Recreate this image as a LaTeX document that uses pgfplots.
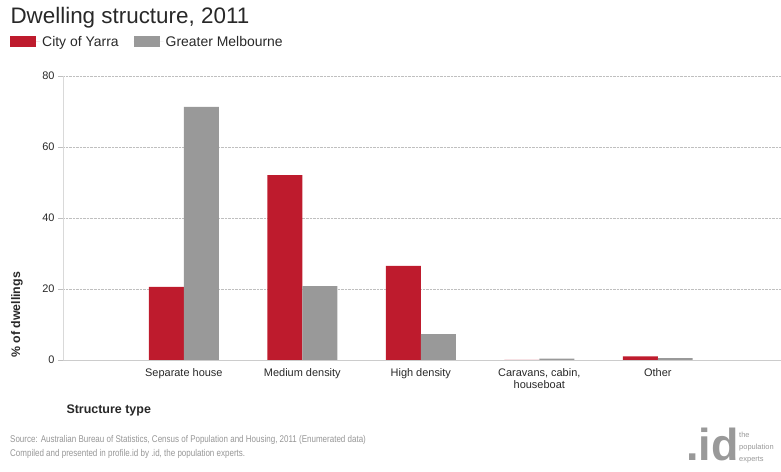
\documentclass[border=0pt]{standalone}
\usepackage{pgfplots}
\pgfplotsset{compat=1.18}
\usepackage{fontspec}
\setmainfont{Liberation Sans}
\definecolor{yarra}{RGB}{190,27,45}
\definecolor{melb}{RGB}{153,153,153}
\definecolor{txt}{RGB}{40,40,40}
\definecolor{src}{RGB}{150,150,150}
\begin{document}
\begin{tikzpicture}[x=1bp,y=1bp]
\useasboundingbox (0,0) rectangle (781,472);
\begin{axis}[
  at={(63bp,112bp)}, anchor=south west,
  scale only axis, width=718bp, height=284bp,
  ybar=0pt, bar width=0.295,
  xmin=-1.02, xmax=5.04, ymin=0, ymax=80,
  xtick={0,1,2,3,4},
  xticklabels={Separate house,Medium density,High density,{Caravans, cabin,\\houseboat},Other},
  xticklabel style={align=center, font=\fontsize{11}{12.5}\selectfont, text=txt},
  ytick={0,20,40,60,80},
  yticklabel style={font=\fontsize{11}{12}\selectfont, text=txt},
  /pgf/number format/assume math mode=true,
  ymajorgrids, grid style={densely dotted, color=black!25},
  axis x line*=bottom, axis y line*=left,
  axis line style={color=black!15},
  x axis line style={color=black!20},
  major tick length=5bp,
  xtick style={draw=none},
  ytick style={color=black!25},
  tick align=outside,
  legend columns=2,
  legend style={at={(-0.0738,1.12)}, anchor=west, draw=none, fill=none,
    font=\fontsize{14}{16}\selectfont, text=txt, inner sep=0pt,
    /tikz/every even column/.append style={column sep=13bp}},
  legend image code/.code={\fill[#1] (0bp,-5.5bp) rectangle (26bp,5.5bp); \path (0bp,0bp) -- (30bp,0bp);},
]
\addplot[fill=yarra, draw=none] coordinates {(0,20.6) (1,52.1) (2,26.5) (3,0) (4,1.0)};
\addplot[fill=melb, draw=none] coordinates {(0,71.3) (1,20.8) (2,7.3) (3,0.4) (4,0.5)};
\legend{City of Yarra, Greater Melbourne}
\end{axis}
\node[anchor=west, text=txt, font=\fontsize{22.5}{26}\selectfont] at (7,454) {Dwelling structure, 2011};
\node[rotate=90, text=txt, font=\bfseries\fontsize{12.4}{14}\selectfont] at (17,157) {\% of dwellings};
\node[anchor=west, text=txt, font=\bfseries\fontsize{12.5}{14}\selectfont] at (63,62) {Structure type};
\node[anchor=north west, text=src, align=left, inner sep=0pt, font=\fontsize{9.8}{13.8}\selectfont] at (10,37) {\scalebox{0.82}[1]{Source: Australian Bureau of Statistics, Census of Population and Housing, 2011 (Enumerated data)}\\\scalebox{0.82}[1]{Compiled and presented in profile.id by .id, the population experts.}};
\node[anchor=base west, text=black!40, inner sep=0pt, font=\bfseries\fontsize{45}{45}\selectfont] at (686,11) {.id};
\node[anchor=north west, text=black!40, align=left, inner sep=0pt, font=\fontsize{7.5}{12}\selectfont] at (739,40) {the\\population\\experts};
\end{tikzpicture}
\end{document}
